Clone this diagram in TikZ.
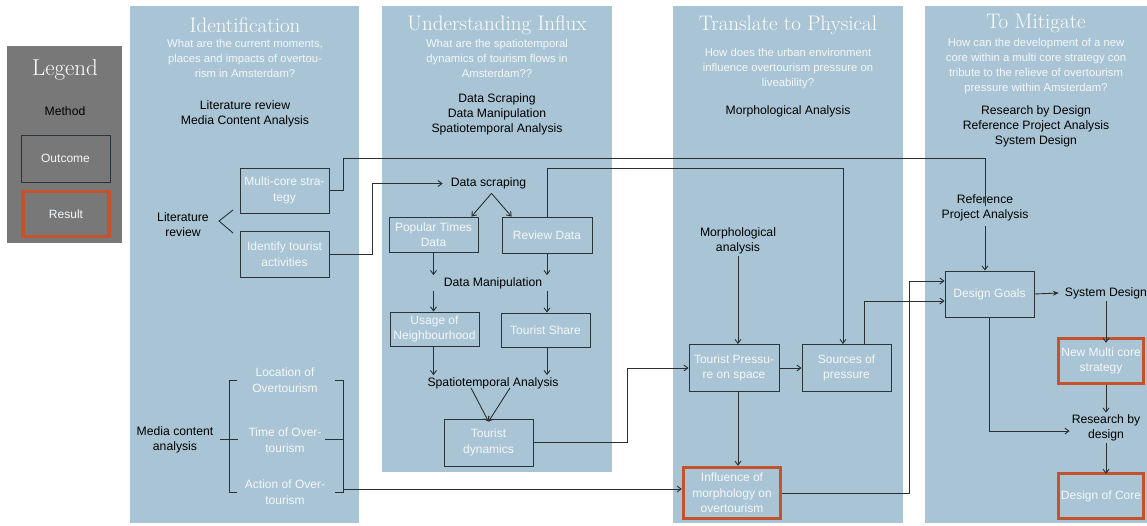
\documentclass[tikz,border=0pt]{standalone}
\usepackage{fontspec}
\setsansfont{Liberation Sans}
\usetikzlibrary{arrows.meta,calc}
\definecolor{colbg}{HTML}{A9C5D5}
\definecolor{leggray}{HTML}{787878}
\definecolor{resorange}{HTML}{C4522C}
\definecolor{boxline}{HTML}{2B3438}
\definecolor{linecol}{HTML}{2A2F32}
\definecolor{subwhite}{HTML}{F4F7F9}
\tikzset{
  colrect/.style={fill=colbg, draw=none},
  coltitle/.style={font=\fontsize{21}{24}\selectfont, text=white, inner sep=0pt},
  sub/.style={font=\sffamily\fontsize{11.3}{15}\selectfont, text=subwhite, align=center, inner sep=0pt},
  wlab/.style={font=\sffamily\fontsize{12}{16}\selectfont, text=subwhite, align=center, inner sep=0pt},
  meth/.style={font=\sffamily\fontsize{12.2}{15}\selectfont, text=black, align=center, inner sep=2pt},
  box/.style={draw=boxline, line width=0.9pt, text=subwhite, font=\sffamily\fontsize{12}{15.5}\selectfont, align=center, inner sep=0pt},
  resbox/.style={box, draw=resorange, line width=3.4pt},
  conn/.style={draw=linecol, line width=0.9pt},
  arr/.style={conn, -{Straight Barb[length=4pt,width=6pt]}},
  barr/.style={conn, -{Stealth[length=6pt,width=5pt]}},
}
\begin{document}
\begin{tikzpicture}[x=1pt,y=-1pt]
\useasboundingbox (0,0) rectangle (1147,525);
\fill[white] (0,0) rectangle (1147,525);
% columns
\fill[colrect] (130,6) rectangle (359,523);
\fill[colrect] (382,6) rectangle (612,472);
\fill[colrect] (673,6) rectangle (903,523);
\fill[colrect] (925,6) rectangle (1147,523);
% legend
\fill[leggray] (7,46) rectangle (122,243);
\node[coltitle, font=\fontsize{23}{26}\selectfont] (legt) at (65,70) {Legend};
\node[meth] (legm) at (65,111) {Method};
\node[box, minimum width=89, minimum height=47] (lego) at (65.5,158.5) {Outcome};
\node[resbox, minimum width=86, minimum height=45] (legr) at (66,214) {Result};
% headers
\node[coltitle] (t1) at (245,25) {Identification};
\node[sub] (s1) at (245,58) {What are the current moments,\\places and impacts of overtou-\\rism in Amsterdam?};
\node[meth] (m1) at (245,114) {Literature review\\Media Content Analysis};
\node[coltitle] (t2) at (497,25) {Understanding Influx};
\node[sub] (s2) at (497,58.5) {What are the spatiotemporal\\dynamics of tourism flows in\\Amsterdam??};
\node[meth] (m2) at (497,114.5) {Data Scraping\\Data Manipulation\\Spatiotemporal Analysis};
\node[coltitle] (t3) at (788,25) {Translate to Physical};
\node[sub] (s3) at (788,68.5) {How does the urban environment\\influence overtourism pressure on\\liveability?};
\node[meth] (m3) at (788,111) {Morphological Analysis};
\node[coltitle] (t4) at (1036,23) {To Mitigate};
\node[sub] (s4) at (1036,66.5) {How can the development of a new\\core within a multi core strategy con\\tribute to the relieve of overtourism\\pressure within Amsterdam?};
\node[meth] (m4) at (1036,126.5) {Research by Design\\Reference Project Analysis\\System Design};
% column 1
\node[box, minimum width=89, minimum height=45] (mc) at (284.5,190.5) {Multi-core stra-\\tegy};
\node[box, minimum width=89, minimum height=46] (ita) at (284.5,254) {Identify tourist\\activities};
\node[meth] (lit) at (183,225) {Literature\\review};
\coordinate (lt) at (233,210);
\coordinate (lv) at (219,221);
\coordinate (lb) at (233,233);
\draw[conn] (lt) -- (lv) -- (lb);
\node[wlab] (loc) at (285,380) {Location of\\Overtourism};
\node[wlab] (tim) at (285,440) {Time of Over-\\tourism};
\node[wlab] (act) at (285,492) {Action of Over-\\tourism};
\node[meth] (mca) at (175,440) {Media content\\analysis};
\coordinate (bl) at (220,439);
\coordinate (br) at (343,489);
\draw[conn] (237,380) -- (229,380) -- (229,492) -- (237,492);
\draw[conn] (bl) -- ++(18,0);
\draw[conn] (335,380) -- (343,380) -- (343,492) -- (335,492);
\draw[conn] (325,439) -- (343,439);
% column 2
\node[meth] (dscr) at (488.5,183.5) {Data scraping};
\node[box, minimum width=89, minimum height=35] (ptd) at (433.5,234.5) {Popular Times\\Data};
\node[box, minimum width=90, minimum height=36] (rvd) at (547,235) {Review Data};
\node[meth] (dman) at (493,283) {Data Manipulation};
\node[box, minimum width=89, minimum height=34] (usg) at (434.5,329) {Usage of\\Neighbourhood};
\node[box, minimum width=89, minimum height=34] (tsh) at (545.5,330) {Tourist Share};
\node[meth] (spa) at (493,383) {Spatiotemporal Analysis};
\node[box, minimum width=89, minimum height=47] (tdy) at (488.5,442.5) {Tourist\\dynamics};
% column 3
\node[meth] (morph) at (738,241) {Morphological\\analysis};
\node[box, minimum width=90, minimum height=47] (tps) at (734,368) {Tourist Pressu-\\re on space};
\node[box, minimum width=89, minimum height=47] (sop) at (846.5,368) {Sources of\\pressure};
\node[resbox, minimum width=97, minimum height=51] (inf) at (732,493) {Influence of\\morphology on\\overtourism};
% column 4
\node[meth] (ref) at (985,207.5) {Reference\\Project Analysis};
\node[box, minimum width=89, minimum height=46] (dg) at (989.5,294) {Design Goals};
\node[meth] (sysd) at (1106,293) {System Design};
\node[resbox, minimum width=85, minimum height=45] (nmc) at (1101,361) {New Multi core\\strategy};
\node[meth] (rbd) at (1106,428) {Research by\\design};
\node[resbox, minimum width=85, minimum height=45] (doc) at (1101,496) {Design of Core};
% connectors
\coordinate (c1) at (985,158);
\coordinate (c2) at (843,168);
\draw[conn] (mc.east) -- ++(14,0) |- (c1) -- ([yshift=-14pt]ref.north);
\draw[arr] (ita.east) -- ++(43,0) |- ([xshift=-6pt]dscr.west);
\draw[arr] ([xshift=3pt,yshift=-2pt]dscr.south) -- ([xshift=-7pt]ptd.north east);
\draw[arr] ([xshift=3pt,yshift=-2pt]dscr.south) -- ([xshift=10pt]rvd.north west);
\draw[arr] (rvd.north) |- (c2) -- (c2 |- sop.north);
\draw[arr] (ptd.south) -- (ptd.south |- dman.north);
\draw[arr] (rvd.south) -- (rvd.south |- dman.north);
\draw[arr] (ptd.south |- dman.south) -- (ptd.south |- usg.north);
\draw[arr] (rvd.south |- dman.south) -- (rvd.south |- tsh.north);
\draw[arr] (ptd.south |- usg.south) -- (ptd.south |- spa.north);
\draw[arr] (rvd.south |- tsh.south) -- (rvd.south |- spa.north);
\draw[arr] ([xshift=-22pt,yshift=3pt]spa.south) -- ([yshift=-3pt]tdy.north);
\draw[arr] ([xshift=17pt,yshift=3pt]spa.south) -- ([yshift=-3pt]tdy.north);
\draw[arr] (tdy.east) -- ++(94,0) |- (tps.west);
\draw[arr] (morph.south) -- (morph.south |- tps.north);
\draw[arr] (tps.east) -- (sop.west);
\draw[arr] (morph.south |- tps.south) -- (morph.south |- inf.north);
\draw[arr] (br) -- (br -| inf.west);
\draw[arr] ([xshift=18pt]sop.north) |- ([yshift=-7pt]dg.west);
\draw[arr] (inf.east) -- ++(127,0) |- ([yshift=13pt]dg.west);
\draw[arr] ([yshift=-3pt]ref.south) -- (ref.south |- dg.north);
\draw[barr] (dg.east) -- ([xshift=-4pt]sysd.west);
\draw[arr] (sysd.south) -- ([yshift=-6pt]sysd.south |- nmc.north);
\draw[arr] (nmc.south -| sysd.south) -- (sysd.south |- rbd.north);
\draw[arr] (rbd.south) -- ([yshift=-2pt]rbd.south |- doc.north);
\draw[arr] (dg.south) |- ([yshift=-3pt]rbd.west);
\end{tikzpicture}
\end{document}
